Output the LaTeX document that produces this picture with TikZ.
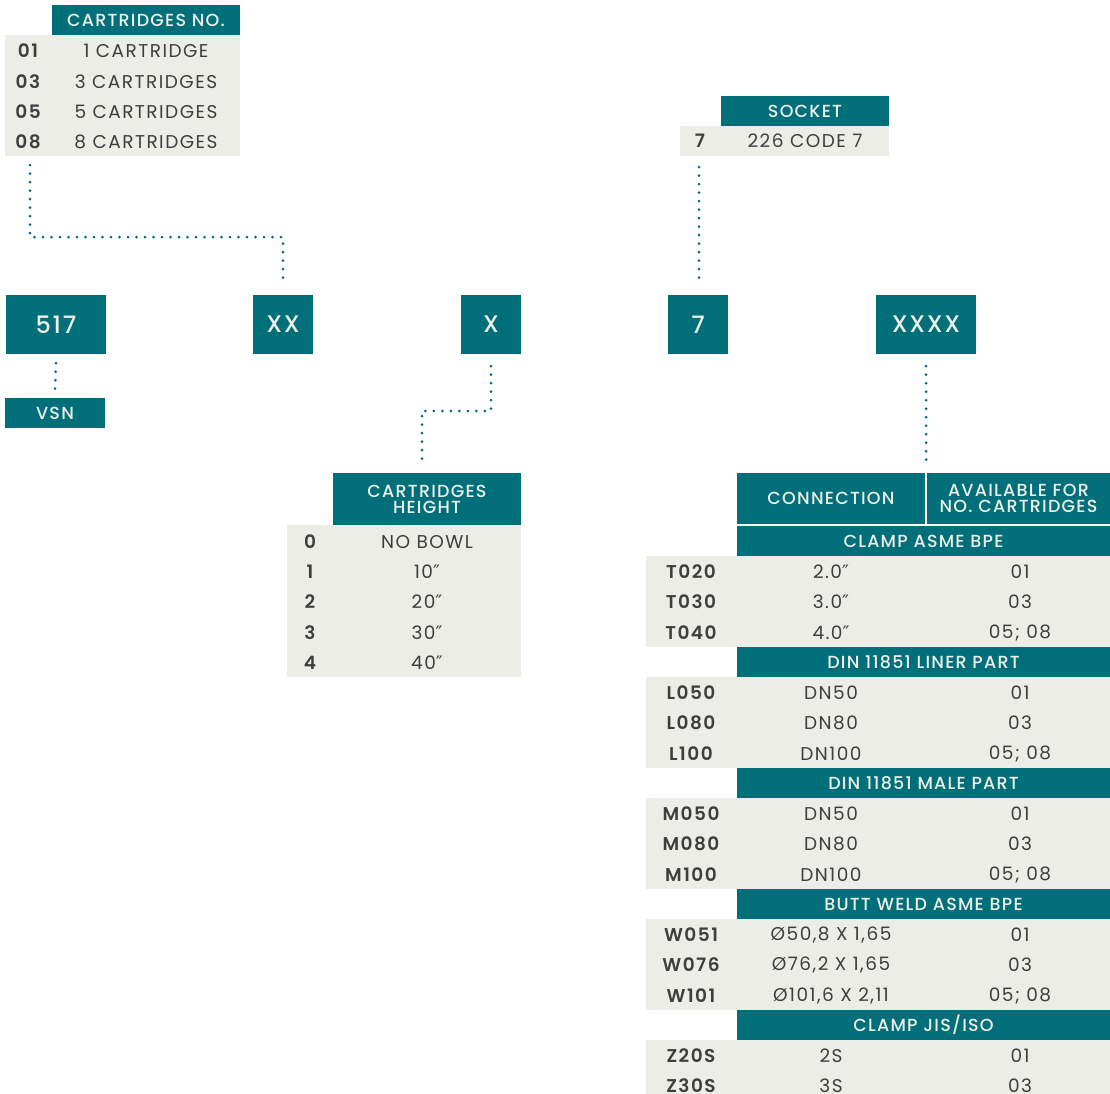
\documentclass[tikz,border=0pt]{standalone}
\usepackage{fontspec}
\setmainfont{Poppins}[LetterSpace=8,BoldFont={Poppins SemiBold}]
\newfontfamily\headfont{Poppins Medium}[LetterSpace=7]
\newfontfamily\primefont{DejaVu Sans}
\newcommand{\dprime}{{\primefont\char"2033}}
\usetikzlibrary{calc}
\definecolor{vsn_teal}{RGB}{0,111,122}
\definecolor{pane_grey}{RGB}{237,237,232}
\definecolor{ink_grey}{RGB}{62,62,62}
\definecolor{head_cream}{RGB}{238,240,232}
\tikzstyle{hdr}=[rectangle,fill=vsn_teal,text=head_cream,inner sep=0pt,
  align=center,font=\headfont\fontsize{17.5}{17}\selectfont]
\tikzstyle{pane}=[rectangle,fill=pane_grey,inner sep=0pt]
\tikzstyle{codebox}=[rectangle,fill=vsn_teal,text=head_cream,inner sep=0pt,
  minimum height=59pt,font=\headfont\fontsize{24}{24}\selectfont]
\tikzstyle{code}=[text=ink_grey,inner sep=0pt,font=\bfseries\fontsize{18.5}{18}\selectfont]
\tikzstyle{val}=[text=ink_grey,inner sep=0pt,font=\fontsize{18.5}{18}\selectfont]
\tikzstyle{dots}=[draw=vsn_teal,line width=3pt,line cap=round,dash pattern=on 0pt off 8.5pt]

\begin{document}
\begin{tikzpicture}[x=1pt,y=-1pt]
  \useasboundingbox (0,0) rectangle (1110,1093);
  \clip (0,0) rectangle (1110,1093);

  % cartridges number
  \node [style=hdr,minimum width=188pt,minimum height=30pt] (cnohead) at (146,20) {CARTRIDGES NO.};
  \node [style=pane,minimum width=235pt,minimum height=121pt] (cnobody) at (122.5,95.5) {};
  \node [style=code] (cno1) at (28,51) {01};
  \node [style=code] (cno3) at (28,82) {03};
  \node [style=code] (cno5) at (28,112) {05};
  \node [style=code] (cno8) at (28,142) {08};
  \node [style=val] (cnv1) at (146,51) {1 CARTRIDGE};
  \node [style=val] (cnv3) at (146,82) {3 CARTRIDGES};
  \node [style=val] (cnv5) at (146,112) {5 CARTRIDGES};
  \node [style=val] (cnv8) at (146,142) {8 CARTRIDGES};

  % socket
  \node [style=hdr,minimum width=168pt,minimum height=30pt] (sockhead) at (805,111) {SOCKET};
  \node [style=pane,minimum width=209pt,minimum height=30pt] (sockbody) at (784.5,141) {};
  \node [style=code] (sock7) at (700,141) {7};
  \node [style=val] (sockv7) at (805,141) {226 CODE 7};

  % code boxes
  \node [style=codebox,minimum width=100pt] (b517) at (56,324.5) {517};
  \node [style=codebox,minimum width=60pt] (bxx) at (283,324.5) {XX};
  \node [style=codebox,minimum width=60pt] (bx) at (491,324.5) {X};
  \node [style=codebox,minimum width=60pt] (b7) at (698,324.5) {7};
  \node [style=codebox,minimum width=100pt] (bxxxx) at (926,324.5) {XXXX};
  \node [style=hdr,minimum width=100pt,minimum height=30pt] (vsn) at (55,413) {VSN};

  % cartridges height
  \node [style=hdr,minimum width=188pt,minimum height=52pt] (hhead) at (427,499) {CARTRIDGES\\[-1pt]HEIGHT};
  \node [style=pane,minimum width=234pt,minimum height=152pt] (hbody) at (404,601) {};
  \node [style=code] (h0) at (310,542) {0};
  \node [style=code] (h1) at (310,572) {1};
  \node [style=code] (h2) at (310,602) {2};
  \node [style=code] (h3) at (310,633) {3};
  \node [style=code] (h4) at (310,663) {4};
  \node [style=val] (hv0) at (427,542) {NO BOWL};
  \node [style=val] (hv1) at (427,572) {10\dprime};
  \node [style=val] (hv2) at (427,602) {20\dprime};
  \node [style=val] (hv3) at (427,633) {30\dprime};
  \node [style=val] (hv4) at (427,663) {40\dprime};

  % connection
  \node [style=hdr,minimum width=188pt,minimum height=51pt] (conhead) at (831,498.5) {CONNECTION};
  \node [style=hdr,minimum width=183pt,minimum height=51pt] (avhead) at (1018.5,498.5) {AVAILABLE FOR\\[-1pt]NO. CARTRIDGES};

  \node [style=hdr,minimum width=373pt,minimum height=30pt] (sec1) at (923.5,541) {CLAMP ASME BPE};
  \node [style=pane,minimum width=464pt,minimum height=91pt] (pan1) at (878,601.5) {};
  \node [style=code] (t020) at (691,572) {T020};
  \node [style=code] (t030) at (691,602) {T030};
  \node [style=code] (t040) at (691,633) {T040};
  \node [style=val] (tc020) at (831,572) {2.0\dprime};
  \node [style=val] (tc030) at (831,602) {3.0\dprime};
  \node [style=val] (tc040) at (831,633) {4.0\dprime};
  \node [style=val] (ta020) at (1020,572) {01};
  \node [style=val] (ta030) at (1020,602) {03};
  \node [style=val] (ta040) at (1020,633) {05; 08};

  \node [style=hdr,minimum width=373pt,minimum height=30pt] (sec2) at (923.5,662) {DIN 11851 LINER PART};
  \node [style=pane,minimum width=464pt,minimum height=91pt] (pan2) at (878,722.5) {};
  \node [style=code] (l050) at (691,693) {L050};
  \node [style=code] (l080) at (691,723) {L080};
  \node [style=code] (l100) at (691,754) {L100};
  \node [style=val] (lc050) at (831,693) {DN50};
  \node [style=val] (lc080) at (831,723) {DN80};
  \node [style=val] (lc100) at (831,754) {DN100};
  \node [style=val] (la050) at (1020,693) {01};
  \node [style=val] (la080) at (1020,723) {03};
  \node [style=val] (la100) at (1020,754) {05; 08};

  \node [style=hdr,minimum width=373pt,minimum height=30pt] (sec3) at (923.5,783) {DIN 11851 MALE PART};
  \node [style=pane,minimum width=464pt,minimum height=91pt] (pan3) at (878,843.5) {};
  \node [style=code] (m050) at (691,814) {M050};
  \node [style=code] (m080) at (691,844) {M080};
  \node [style=code] (m100) at (691,875) {M100};
  \node [style=val] (mc050) at (831,814) {DN50};
  \node [style=val] (mc080) at (831,844) {DN80};
  \node [style=val] (mc100) at (831,875) {DN100};
  \node [style=val] (ma050) at (1020,814) {01};
  \node [style=val] (ma080) at (1020,844) {03};
  \node [style=val] (ma100) at (1020,875) {05; 08};

  \node [style=hdr,minimum width=373pt,minimum height=30pt] (sec4) at (923.5,904) {BUTT WELD ASME BPE};
  \node [style=pane,minimum width=464pt,minimum height=91pt] (pan4) at (878,964.5) {};
  \node [style=code] (w051) at (691,935) {W051};
  \node [style=code] (w076) at (691,965) {W076};
  \node [style=code] (w101) at (691,996) {W101};
  \node [style=val] (wc051) at (831,935) {Ø50,8 X 1,65};
  \node [style=val] (wc076) at (831,965) {Ø76,2 X 1,65};
  \node [style=val] (wc101) at (831,996) {Ø101,6 X 2,11};
  \node [style=val] (wa051) at (1020,935) {01};
  \node [style=val] (wa076) at (1020,965) {03};
  \node [style=val] (wa101) at (1020,996) {05; 08};

  \node [style=hdr,minimum width=373pt,minimum height=30pt] (sec5) at (923.5,1025) {CLAMP JIS/ISO};
  \node [style=pane,minimum width=464pt,minimum height=91pt] (pan5) at (878,1085.5) {};
  \node [style=code] (z20s) at (691,1056) {Z20S};
  \node [style=code] (z30s) at (691,1086) {Z30S};
  \node [style=val] (zc20s) at (831,1056) {2S};
  \node [style=val] (zc30s) at (831,1086) {3S};
  \node [style=val] (za20s) at (1020,1056) {01};
  \node [style=val] (za30s) at (1020,1086) {03};

  % dotted links
  \coordinate (cnoend) at (30,165);
  \coordinate (cnoturn) at (30,237);
  \draw [style=dots,shorten >=10pt] (cnoend) -- (cnoturn) -| (bxx.north);
  \draw [style=dots] ($(b517.south)+(0,9)$) to ($(vsn.north)+(0,-8)$);
  \draw [style=dots] ($(b7.north |- sockbody.south)+(1,11)$) to ($(b7.north)+(1,-12)$);
  \coordinate (xturn) at (491,411);
  \coordinate (xend) at (422,462);
  \draw [style=dots] ($(bx.south)+(0,12)$) -- (xturn) -| (xend);
  \draw [style=dots] ($(bxxxx.south)+(0,12)$) to ($(conhead.north east)+(1,-11)$);
\end{tikzpicture}
\end{document}
